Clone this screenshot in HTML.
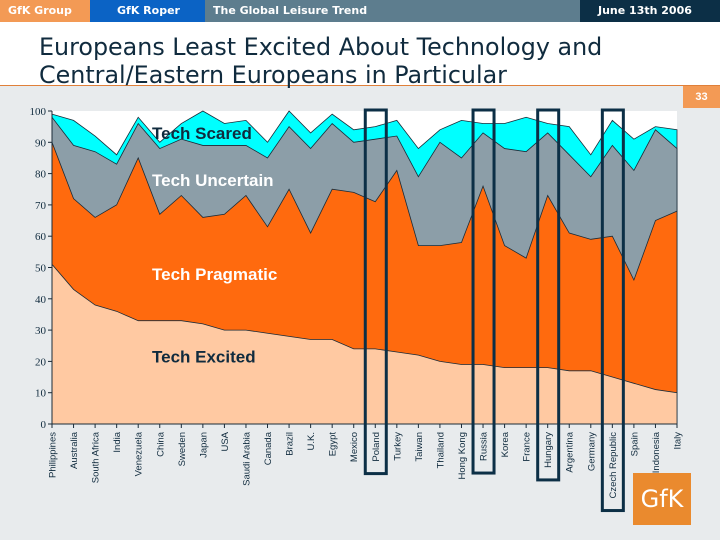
<!DOCTYPE html>
<html><head><meta charset="utf-8"><style>
body{margin:0;width:720px;height:540px;overflow:hidden;background:#e8ebed;font-family:"Liberation Sans",sans-serif;position:relative}
.hdr{position:absolute;top:0;height:22px;color:#fff;font:bold 11px "DejaVu Sans",sans-serif;line-height:22px}
</style></head><body>
<div class="hdr" style="left:0;width:90px;background:#f39a55;padding-left:8px;box-sizing:border-box">GfK Group</div>
<div class="hdr" style="left:90px;width:115px;background:#0b63c5;padding-left:27px;box-sizing:border-box">GfK Roper</div>
<div class="hdr" style="left:205px;width:375px;background:#5d7d8e;padding-left:8px;box-sizing:border-box">The Global Leisure Trend</div>
<div class="hdr" style="left:580px;width:140px;background:#0c2f46;padding-left:18px;box-sizing:border-box">June 13th 2006</div>
<div style="position:absolute;top:22px;left:0;width:720px;height:63px;background:#fff;border-bottom:1px solid #e0803a"></div>
<div style="position:absolute;left:39px;top:33px;font:23.8px 'DejaVu Sans',sans-serif;color:#102b3e;line-height:28px">Europeans Least Excited About Technology and<br>Central/Eastern Europeans in Particular</div>
<div style="position:absolute;left:683px;top:86px;width:37px;height:22px;background:#f39a55;color:#fff;font:bold 11px sans-serif;text-align:center;line-height:22px">33</div>
<svg id="c" width="720" height="540" style="position:absolute;left:0;top:0"></svg>
<div style="position:absolute;left:633px;top:473px;width:58px;height:52px;background:#ea8a2e;color:#fff;font:24px 'DejaVu Sans',sans-serif;text-align:center;line-height:52px">GfK</div>
<script>
const countries=["Philippines","Australia","South Africa","India","Venezuela","China","Sweden","Japan","USA","Saudi Arabia","Canada","Brazil","U.K.","Egypt","Mexico","Poland","Turkey","Taiwan","Thailand","Hong Kong","Russia","Korea","France","Hungary","Argentina","Germany","Czech Republic","Spain","Indonesia","Italy"];
const excitedCum=[51,43,38,36,33,33,33,32,30,30,29,28,27,27,24,24,23,22,20,19,19,18,18,18,17,17,15,13,11,10];
const pragmaticCum=[90,72,66,70,85,67,73,66,67,73,63,75,61,75,74,71,81,57,57,58,76,57,53,73,61,59,60,46,65,68];
const uncertainCum=[98,89,87,83,96,88,91,89,89,89,85,95,88,96,90,91,92,79,90,85,93,88,87,93,86,79,89,81,94,88];
const scaredCum=[99,97,92,86,98,90,96,100,96,97,90,100,93,99,94,95,97,88,94,97,96,96,98,96,95,86,97,91,95,94];
const yTicks=[0,10,20,30,40,50,60,70,80,90,100];
const highlighted=["Poland","Russia","Hungary","Czech Republic"];
const svg=document.getElementById('c');const NS='http://www.w3.org/2000/svg';
const X0=52,X1=677,Y0=424,Y1=111;
const x=i=>X0+(X1-X0)*i/(countries.length-1);
const y=v=>Y0-(Y0-Y1)*v/100;
function mk(t,a,p){const e=document.createElementNS(NS,t);for(const k in a)e.setAttribute(k,a[k]);(p||svg).appendChild(e);return e;}
const bg=mk('rect',{x:X0,y:Y1,width:X1-X0,height:Y0-Y1,fill:'#fff'});


const layers=[[scaredCum,'#00ffff','tech-scared-area'],[uncertainCum,'#8c9ea8','tech-uncertain-area'],[pragmaticCum,'#ff6a0e','tech-pragmatic-area'],[excitedCum,'#ffc9a2','tech-excited-area']];
layers.forEach(([d,c,n])=>{let p='M'+x(0)+','+y(0);d.forEach((v,i)=>p+=' L'+x(i)+','+y(v));p+=' L'+x(d.length-1)+','+y(0)+'Z';
const e=mk('path',{d:p,fill:c,stroke:'#1a2b38','stroke-width':0.8});

});
mk('line',{x1:X0,y1:Y1,x2:X0,y2:Y0,stroke:'#1a2b38'});
mk('line',{x1:X0,y1:Y0,x2:X1,y2:Y0,stroke:'#1a2b38'});
yTicks.forEach(t=>{mk('line',{x1:X0-4,y1:y(t),x2:X0,y2:y(t),stroke:'#1a2b38'});
const tx=mk('text',{x:X0-6,y:y(t)+4,'text-anchor':'end','font-size':11,'font-family':'Liberation Serif',fill:'#102b3e'});tx.textContent=t;

});
countries.forEach((c,i)=>{mk('line',{x1:x(i),y1:Y0,x2:x(i),y2:Y0+4,stroke:'#1a2b38'});
const tx=mk('text',{transform:`translate(${x(i)+3.5},${Y0+8}) rotate(-90)`,'text-anchor':'end','font-size':9.5,'font-family':'Liberation Sans','fill':'#102b3e'});tx.textContent=c;


if(highlighted.includes(c)){const len=tx.getComputedTextLength();const r=mk('rect',{x:x(i)-10,y:110,width:21,height:Y0+8+len+12-110,fill:'none',stroke:'#0c2f46','stroke-width':3});

}});
[["Tech Scared",y(93),'#102b3e'],["Tech Uncertain",y(78),'#fff'],["Tech Pragmatic",y(48),'#fff'],["Tech Excited",y(21.5),'#102b3e']].forEach(([t,yy,c])=>{
const tx=mk('text',{x:152,y:yy+6,'font-size':17,'font-weight':'bold',fill:c,'font-family':'Liberation Sans'});tx.textContent=t;

});
</script>
</body></html>
